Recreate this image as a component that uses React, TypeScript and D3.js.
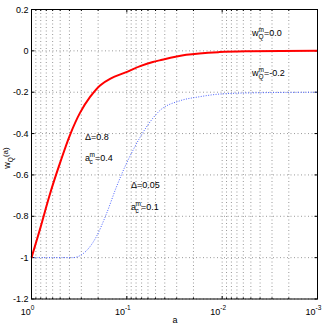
import React from "react";
import * as d3 from "d3";

// red curve: Δ=0.8, a_c^m=0.4, w_Q^m=0.0
const redA = [1, 0.814, 0.64, 0.502, 0.395, 0.31, 0.243, 0.191, 0.15, 0.0966, 0.0736, 0.0534, 0.0454, 0.0238, 0.0107, 0.005, 0.001];
const redW = [-1, -0.862, -0.692, -0.542, -0.407, -0.3, -0.223, -0.167, -0.135, -0.099, -0.075, -0.054, -0.046, -0.019, -0.006, -0.002, 0];
// blue curve: Δ=0.05, a_c^m=0.1, w_Q^m=-0.2
const blueA = [1, 0.5, 0.371, 0.29, 0.2096, 0.164, 0.129, 0.1016, 0.0867, 0.0626, 0.0454, 0.028, 0.0173, 0.01067, 0.0048, 0.001];
const blueW = [-1, -1, -1, -0.982, -0.9, -0.789, -0.66, -0.547, -0.483, -0.37, -0.29, -0.242, -0.222, -0.209, -0.203, -0.2];

const yTicks = [-1.2, -1, -0.8, -0.6, -0.4, -0.2, 0, 0.2];
const xTickExps = [0, -1, -2, -3];

const L = 31.5, R = 317.5, T = 9.5, B = 299;
const FONT = "'Liberation Sans', Arial, Helvetica, sans-serif";

export default function App() {
  const x = d3.scaleLog().domain([1, 0.001]).range([L, R]);
  const y = d3.scaleLinear().domain([-1.2, 0.2]).range([B, T]);

  const minor: number[] = [];
  for (let k = -3; k <= -1; k++) {
    for (let m = 1; m <= 9; m++) minor.push(m * Math.pow(10, k));
  }
  minor.push(1);

  const redLine = d3
    .line<[number, number]>()
    .x((d) => x(d[0]))
    .y((d) => y(d[1]))
    .curve(d3.curveCatmullRom.alpha(0.5));
  const blueLine = d3
    .line<[number, number]>()
    .x((d) => x(d[0]))
    .y((d) => y(d[1]))
    .curve(d3.curveMonotoneX);

  const redPts = redA.map((a, i) => [a, redW[i]] as [number, number]);
  const bluePts = blueA.map((a, i) => [a, blueW[i]] as [number, number]);

  const fmt = (v: number) => (Math.round(v * 10) / 10).toString();

  return (
    <svg width={327} height={327} style={{ position: "absolute", left: 0, top: 0, background: "#fff" }} fontFamily={FONT}>
      <rect x={0} y={0} width={327} height={327} fill="#fff" />
      {/* grid */}
      {minor.map((a, i) => (
        <line key={"gx" + i} x1={x(a)} x2={x(a)} y1={T} y2={B} stroke="#999" strokeWidth={1} strokeDasharray="1,2.5" />
      ))}
      {yTicks.map((v, i) => (
        <line key={"gy" + i} x1={L} x2={R} y1={y(v)} y2={y(v)} stroke="#999" strokeWidth={1} strokeDasharray="1,2.5" />
      ))}
      {/* ticks */}
      {yTicks.map((v, i) => (
        <g key={"ty" + i}>
          <line x1={L} x2={L + 3} y1={y(v)} y2={y(v)} stroke="#000" />
          <line x1={R} x2={R - 3} y1={y(v)} y2={y(v)} stroke="#000" />
        </g>
      ))}
      {minor.map((a, i) => {
        const isMajor = Math.abs(Math.log10(a) - Math.round(Math.log10(a))) < 1e-9;
        const len = isMajor ? 3 : 1.5;
        return (
          <g key={"tx" + i}>
            <line x1={x(a)} x2={x(a)} y1={B} y2={B - len} stroke="#000" />
            <line x1={x(a)} x2={x(a)} y1={T} y2={T + len} stroke="#000" />
          </g>
        );
      })}
      {/* curves */}
      <path d={blueLine(bluePts) || ""} fill="none" stroke="#4a62ff" strokeWidth={1} strokeDasharray="1,1.5" />
      <path d={redLine(redPts) || ""} fill="none" stroke="#ff0000" strokeWidth={2} />
      {/* box */}
      <rect x={L} y={T} width={R - L} height={B - T} fill="none" stroke="#000" strokeWidth={1} />
      {/* y tick labels */}
      {yTicks.map((v, i) => (
        <text key={"ly" + i} x={L - 3} y={y(v) + 3.2} fontSize={9} textAnchor="end" fill="#000">
          {fmt(v)}
        </text>
      ))}
      {/* x tick labels */}
      {xTickExps.map((e) => (
        <text key={"lx" + e} x={x(Math.pow(10, e)) - 4} y={315} fontSize={9} textAnchor="middle" fill="#000">
          10
          <tspan dy={-5} fontSize={6.5}>{e.toString()}</tspan>
        </text>
      ))}
      {/* axis labels */}
      <text x={175} y={323} fontSize={9} textAnchor="middle">a</text>
      <text transform="translate(10,158) rotate(-90)" fontSize={9} textAnchor="middle">
        w<tspan dy={2.5} fontSize={6.5}>Q</tspan>
        <tspan dy={-4.5} fontSize={8}>(a)</tspan>
      </text>
      {/* annotations */}
      <text x={85} y={140} fontSize={9}>Δ=0.8</text>
      <text y={161} fontSize={9}>
        <tspan x={85}>a</tspan>
        <tspan x={89.5} dy={-4} fontSize={6.5}>m</tspan>
        <tspan x={89.5} dy={7} fontSize={6.5}>c</tspan>
        <tspan x={95} dy={-3}>=0.4</tspan>
      </text>
      <text x={131} y={188} fontSize={9}>Δ=0.05</text>
      <text y={210} fontSize={9}>
        <tspan x={131}>a</tspan>
        <tspan x={135.5} dy={-4} fontSize={6.5}>m</tspan>
        <tspan x={135.5} dy={7} fontSize={6.5}>c</tspan>
        <tspan x={141} dy={-3}>=0.1</tspan>
      </text>
      <text y={36} fontSize={9}>
        <tspan x={252}>w</tspan>
        <tspan x={258.5} dy={-4} fontSize={6.5}>m</tspan>
        <tspan x={258.5} dy={7} fontSize={6.5}>Q</tspan>
        <tspan x={264} dy={-3}>=0.0</tspan>
      </text>
      <text y={76} fontSize={9}>
        <tspan x={252}>w</tspan>
        <tspan x={258.5} dy={-4} fontSize={6.5}>m</tspan>
        <tspan x={258.5} dy={7} fontSize={6.5}>Q</tspan>
        <tspan x={264} dy={-3}>=-0.2</tspan>
      </text>
    </svg>
  );
}
